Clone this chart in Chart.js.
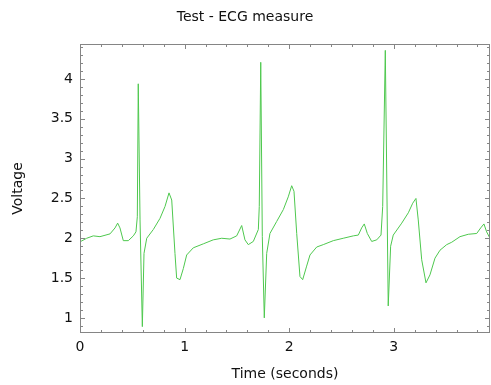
<!DOCTYPE html>
<html>
<head>
<meta charset="utf-8">
<title>Test - ECG measure</title>
<script src="https://cdn.jsdelivr.net/npm/chart.js@4/dist/chart.umd.min.js"></script>
<style>
  html, body { margin: 0; padding: 0; background: #fff; }
  #wrap { width: 491px; height: 385px; }
</style>
</head>
<body>
<div id="wrap"><canvas id="ecg-chart" width="491" height="385"></canvas></div>
<script>
// Samples: time (s) and voltage
const timeValues = [
  0.007, 0.064, 0.127, 0.191, 0.287, 0.335, 0.360, 0.382, 0.414, 0.462,
  0.510, 0.535, 0.548, 0.557, 0.574, 0.596, 0.612, 0.638, 0.701, 0.765,
  0.813, 0.851, 0.877, 0.908, 0.924, 0.956, 0.988, 1.020, 1.083, 1.179,
  1.274, 1.355, 1.434, 1.498, 1.546, 1.577, 1.609, 1.657, 1.705, 1.714,
  1.728, 1.743, 1.762, 1.785, 1.816, 1.880, 1.944, 1.991, 2.024, 2.046,
  2.072, 2.103, 2.129, 2.167, 2.199, 2.263, 2.326, 2.422, 2.517, 2.613,
  2.661, 2.693, 2.718, 2.747, 2.789, 2.837, 2.878, 2.894, 2.919, 2.947,
  2.970, 2.995, 3.076, 3.139, 3.181, 3.212, 3.234, 3.267, 3.308, 3.346,
  3.394, 3.442, 3.506, 3.554, 3.633, 3.712, 3.793, 3.831, 3.862, 3.888,
  3.920
];
const voltageValues = [
  1.96, 2.00, 2.03, 2.02, 2.055, 2.13, 2.19, 2.13, 1.97, 1.97,
  2.03, 2.08, 2.27, 3.94, 2.23, 0.89, 1.81, 2.00, 2.11, 2.25,
  2.40, 2.57, 2.48, 1.81, 1.50, 1.48, 1.62, 1.79, 1.88, 1.93,
  1.98, 2.00, 1.99, 2.03, 2.16, 1.98, 1.92, 1.96, 2.11, 2.40,
  4.21, 2.02, 1.00, 1.81, 2.06, 2.21, 2.36, 2.52, 2.66, 2.59,
  2.06, 1.52, 1.48, 1.65, 1.79, 1.89, 1.92, 1.97, 2.00, 2.03,
  2.04, 2.13, 2.18, 2.06, 1.96, 1.98, 2.04, 2.40, 4.36, 1.15,
  1.90, 2.04, 2.19, 2.32, 2.44, 2.50, 2.23, 1.73, 1.44, 1.54,
  1.75, 1.85, 1.92, 1.95, 2.02, 2.05, 2.06, 2.13, 2.18, 2.08,
  2.00
];

// Tick labels
const xTickValues = [0, 1, 2, 3];
const yTickValues = [1, 1.5, 2, 2.5, 3, 3.5, 4];

const FONT = "'DejaVu Sans', sans-serif";
const AXIS_GREY = '#858585';

// Draws the plot frame and inward ticks on all four sides
const frameTicks = {
  id: 'frameTicks',
  afterDatasetsDraw(chart) {
    const { ctx, chartArea: a, scales: { x, y } } = chart;
    ctx.save();
    ctx.strokeStyle = AXIS_GREY;
    ctx.lineWidth = 1;
    ctx.strokeRect(a.left + 0.5, a.top + 0.5, a.right - a.left - 1, a.bottom - a.top - 1);
    ctx.beginPath();
    for (let i = 0; i * 0.2 <= x.max + 1e-9; i++) {
      const v = i * 0.2;
      const px = Math.round(x.getPixelForValue(v)) + 0.5;
      const len = i % 5 === 0 ? 5 : 3;
      ctx.moveTo(px, a.bottom); ctx.lineTo(px, a.bottom - len);
      ctx.moveTo(px, a.top); ctx.lineTo(px, a.top + len);
    }
    for (let i = Math.ceil(y.min * 10); i <= Math.floor(y.max * 10); i++) {
      const py = Math.round(y.getPixelForValue(i / 10)) + 0.5;
      const len = i % 5 === 0 ? 5 : 3;
      ctx.moveTo(a.left, py); ctx.lineTo(a.left + len, py);
      ctx.moveTo(a.right, py); ctx.lineTo(a.right - len, py);
    }
    ctx.stroke();
    ctx.restore();
  }
};

function initChart() {
  const ctx = document.getElementById('ecg-chart').getContext('2d');
  new Chart(ctx, {
    type: 'line',
    data: {
      datasets: [{
        label: 'ECG',
        data: timeValues.map((t, i) => ({ x: t, y: voltageValues[i] })),
        borderColor: '#4ec84e',
        borderWidth: 1,
        pointRadius: 0,
        tension: 0,
        fill: false
      }]
    },
    options: {
      responsive: false,
      animation: false,
      devicePixelRatio: 1,
      layout: { padding: { left: 0, right: 1, top: 0, bottom: 0 } },
      plugins: {
        legend: { display: false },
        tooltip: { enabled: false },
        title: {
          display: true,
          text: 'Test - ECG measure',
          color: '#111',
          font: { family: FONT, size: 14, weight: 'normal' },
          padding: { top: 8.5, bottom: 18.7 }
        }
      },
      scales: {
        x: {
          type: 'linear',
          min: 0,
          max: 3.92,
          afterBuildTicks: s => { s.ticks = xTickValues.map(v => ({ value: v })); },
          afterFit: s => { s.height = 52; },
          grid: { display: false, drawTicks: false },
          border: { display: false },
          ticks: {
            color: '#111',
            padding: 6,
            maxRotation: 0,
            font: { family: FONT, size: 14 },
            callback: v => String(v)
          },
          title: {
            display: true,
            text: 'Time (seconds)',
            color: '#111',
            font: { family: FONT, size: 14 },
            padding: { top: 0, bottom: 2.6 }
          }
        },
        y: {
          type: 'linear',
          min: 0.81,
          max: 4.44,
          afterBuildTicks: s => { s.ticks = yTickValues.map(v => ({ value: v })); },
          afterFit: s => { s.width = 80; },
          grid: { display: false, drawTicks: false },
          border: { display: false },
          ticks: {
            color: '#111',
            padding: 7,
            font: { family: FONT, size: 14 },
            callback: v => String(v)
          },
          title: {
            display: true,
            text: 'Voltage',
            color: '#111',
            font: { family: FONT, size: 14 },
            padding: { top: 9.6, bottom: 0 }
          }
        }
      }
    },
    plugins: [frameTicks]
  });
}

window.onload = initChart;
</script>
</body>
</html>
